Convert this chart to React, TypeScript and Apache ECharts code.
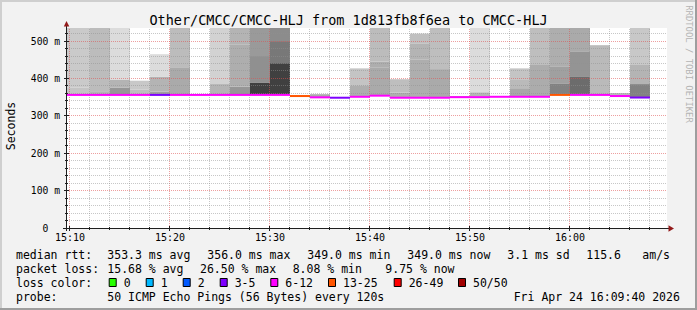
import React, { useEffect, useRef } from 'react';
import * as echarts from 'echarts';

const TITLE = 'Other/CMCC/CMCC-HLJ from 1d813fb8f6ea to CMCC-HLJ';
const Y_AXIS_NAME = 'Seconds';
const WATERMARK = 'RRDTOOL / TOBI OETIKER';

// x values are minutes after 15:00
const X_START = 9.7; // 15:09:42
const X_END = 69.7; // 16:09:42
const xMajorMinutes = [10, 20, 30, 40, 50, 60];
const xMajorLabels = ['15:10', '15:20', '15:30', '15:40', '15:50', '16:00'];
const xMinorMinutes = [12, 14, 16, 18, 22, 24, 26, 28, 32, 34, 36, 38, 42, 44, 46, 48, 52, 54, 56, 58, 62, 64, 66, 68];

// y values are milliseconds
const Y_MAX = 535;
const yMajorValues = [100, 200, 300, 400, 500];
const yMinorValues = [20, 40, 60, 80, 120, 140, 160, 180, 220, 240, 260, 280, 320, 340, 360, 380, 420, 440, 460, 480, 520];

// one entry per 120 s step (end minute of each step)
const slotEnd = [12, 14, 16, 18, 20, 22, 24, 26, 28, 30, 32, 34, 36, 38, 40, 42, 44, 46, 48, 50, 52, 54, 56, 58, 60, 62, 64, 66, 68];
const medianMs = [356, 356, 356, 356, 356, 356, 356, 356, 356, 356, 356, 353, 349.5, 348.5, 351, 354, 348.5, 348.5, 348.5, 350, 350, 351, 351, 351, 356, 356, 356, 353, 349];
const lossPct = [18, 16, 14, 20, 8.5, 14, 16, 14, 18, 20, 14, 26.5, 12.5, 8.08, 16, 14, 18, 14, 16, 12.5, 14, 16, 18, 14, 26, 16, 14, 16, 9.75];
// smoke: ping spread, split in three bands (median..b1, b1..b2, b2..top)
const smokeB1 = [375, 366, 375, 370, 365, 430, 356, 385, 378, 388, 441, 353, 358, 348.5, 382, 430, 362, 450, 425, 353, 363, 351, 374, 436, 387, 404, 489, 361, 385];
const smokeB2 = [375, 366, 396, 370, 405, 430, 356, 385, 490, 460, 500, 353, 358, 348.5, 382, 445, 362, 494, 425, 353, 363, 351, 396, 436, 431, 471, 489, 361, 436];
const smokeTop = [560, 560, 560, 394, 465, 560, 356, 560, 560, 560, 560, 353, 358, 348.5, 427, 560, 398, 520, 560, 353, 560, 351, 427, 560, 560, 560, 489, 361, 560];
const densLow = [0.22, 0.3, 0.45, 0.25, 0.4, 0.35, 0, 0.3, 0.45, 0.88, 0.88, 0, 0.35, 0, 0.33, 0.35, 0.33, 0.33, 0.35, 0.3, 0.3, 0, 0.36, 0.34, 0.55, 0.66, 0.27, 0.27, 0.55];
const densMid = [0.19, 0.26, 0.3, 0.2, 0.3, 0.26, 0, 0.15, 0.33, 0.48, 0.6, 0, 0, 0, 0.22, 0.33, 0.25, 0.3, 0.33, 0, 0.1, 0, 0.27, 0.3, 0.4, 0.46, 0.27, 0.27, 0.3];
const densHigh = [0.19, 0.26, 0.1, 0.2, 0.1, 0.26, 0, 0.15, 0.3, 0.43, 0.5, 0, 0, 0, 0.22, 0.26, 0.25, 0.24, 0.25, 0, 0.1, 0, 0.22, 0.25, 0.33, 0.35, 0.27, 0.27, 0.2];

const PINGS = 50;
const lossLabels = ['0', '1', '2', '3-5', '6-12', '13-25', '26-49', '50/50'];
const lossMaxPings = [0, 1, 2, 5, 12, 25, 49, 50];
const lossColors = ['#26ff00', '#00b8ff', '#0059ff', '#7e00ff', '#ff00ff', '#ff5500', '#ff0000', '#a10000'];

const rttTexts = ['median rtt:', '353.3 ms avg', '356.0 ms max', '349.0 ms min', '349.0 ms now', '3.1 ms sd', '115.6', 'am/s'];
const lossTexts = ['packet loss:', '15.68 % avg', '26.50 % max', '8.08 % min', '9.75 % now'];
const LOSS_COLOR_TITLE = 'loss color:';
const probeTexts = ['probe:', '50 ICMP Echo Pings (56 Bytes) every 120s', 'Fri Apr 24 16:09:40 2026'];

// layout (pixels)
const rttX = [16, 107.3, 207.3, 307.3, 407.3, 507.3, 586.3, 642.3];
const lossX = [16, 107.3, 200, 292.7, 385.3];
const probeX = [16, 107.3, 513.7];
const legendBoxX = [108.7, 145.7, 182.7, 219.7, 270.3, 328, 393.7, 458];
const ROW_Y = [254.5, 268.5, 282.5, 296.5];

const MONO = '"DejaVu Sans Mono", monospace';

function lossColor(pct: number): string {
  const lost = Math.round((pct / 100) * PINGS);
  for (let i = 0; i < lossMaxPings.length; i++) {
    if (lost <= lossMaxPings[i]) return lossColors[i];
  }
  return lossColors[lossColors.length - 1];
}

function smokeGray(d: number): string {
  const g = Math.max(0, Math.min(255, Math.round(240 - 200 * d)));
  const h = g.toString(16).padStart(2, '0');
  return '#' + h + h + h;
}

export default function App() {
  const ref = useRef<HTMLDivElement>(null);

  useEffect(() => {
    if (!ref.current) return;
    const chart = echarts.init(ref.current, undefined, { renderer: 'svg' });

    const slotStart = slotEnd.map((_, i) => (i === 0 ? X_START : slotEnd[i - 1]));
    const smokeData = slotEnd.map((e, i) => [
      slotStart[i], e, medianMs[i], smokeB1[i], smokeB2[i], smokeTop[i], densLow[i], densMid[i], densHigh[i],
    ]);
    const medianData = slotEnd.map((e, i) => [slotStart[i], e, medianMs[i], lossPct[i]]);
    const gridData: number[][] = [];
    xMinorMinutes.forEach((m) => gridData.push([m, 0, 0]));
    xMajorMinutes.forEach((m) => gridData.push([m, 0, 1]));
    yMinorValues.forEach((v) => gridData.push([X_START, v, 2]));
    yMajorValues.forEach((v) => gridData.push([X_START, v, 3]));
    gridData.push([X_START, 0, 4]);

    const text = (t: string, x: number, y: number, extra: any = {}) => ({
      type: 'text',
      x,
      y,
      silent: true,
      ...extra,
      style: {
        text: t,
        font: extra.font || `11.5px ${MONO}`,
        fill: extra.fill || '#000',
        align: extra.align || 'left',
        textAlign: extra.align || 'left',
        verticalAlign: 'middle',
        textVerticalAlign: 'middle',
      },
    });

    const graphics: any[] = [
      { type: 'rect', shape: { x: 0, y: 0, width: 697, height: 2 }, style: { fill: '#cfcfcf' }, silent: true },
      { type: 'rect', shape: { x: 0, y: 0, width: 2, height: 310 }, style: { fill: '#cfcfcf' }, silent: true },
      { type: 'rect', shape: { x: 0, y: 308, width: 697, height: 2 }, style: { fill: '#9e9e9e' }, silent: true },
      { type: 'rect', shape: { x: 695, y: 0, width: 2, height: 310 }, style: { fill: '#9e9e9e' }, silent: true },
      text(TITLE, 348.5, 19.5, { font: `13.5px ${MONO}`, align: 'center' }),
      text(Y_AXIS_NAME, 11, 126, { font: `11.5px ${MONO}`, align: 'center', rotation: Math.PI / 2 }),
      text(WATERMARK, 688.5, 64, { font: `8.9px ${MONO}`, align: 'center', rotation: -Math.PI / 2, fill: '#b4b4b4' }),
      // axis lines and arrows
      { type: 'line', shape: { x1: 66.5, y1: 231, x2: 66.5, y2: 25 }, style: { stroke: '#1f1f1f', lineWidth: 1 }, silent: true, z: 100 },
      { type: 'line', shape: { x1: 63, y1: 228.5, x2: 669, y2: 228.5 }, style: { stroke: '#1f1f1f', lineWidth: 1 }, silent: true, z: 100 },
      { type: 'polygon', shape: { points: [[63.8, 26.5], [69.3, 26.5], [66.5, 21]] }, style: { fill: '#931a1a' }, silent: true, z: 100 },
      { type: 'polygon', shape: { points: [[668.5, 225.3], [668.5, 231.7], [674, 228.5]] }, style: { fill: '#931a1a' }, silent: true, z: 100 },
    ];
    rttTexts.forEach((t, i) => graphics.push(text(t, rttX[i], ROW_Y[0])));
    lossTexts.forEach((t, i) => graphics.push(text(t, lossX[i], ROW_Y[1])));
    graphics.push(text(LOSS_COLOR_TITLE, 16, ROW_Y[2]));
    lossLabels.forEach((t, i) => {
      graphics.push({
        type: 'rect',
        shape: { x: legendBoxX[i] + 0.5, y: ROW_Y[2] - 4, width: 7, height: 8 },
        style: { fill: lossColors[i], stroke: '#000', lineWidth: 1 },
        silent: true,
      });
      graphics.push(text(t, legendBoxX[i] + 15, ROW_Y[2]));
    });
    probeTexts.forEach((t, i) => graphics.push(text(t, probeX[i], ROW_Y[3])));

    const option: any = {
      animation: false,
      backgroundColor: '#f2f2f2',
      grid: { left: 67, top: 28, width: 600, height: 200, show: true, backgroundColor: '#ffffff', borderWidth: 0 },
      xAxis: {
        type: 'value',
        min: X_START,
        max: X_END,
        axisLine: { show: false },
        axisTick: { show: false },
        splitLine: { show: false },
        axisLabel: {
          margin: 4,
          color: '#000',
          fontFamily: MONO,
          fontSize: 10,
          showMinLabel: true,
          showMaxLabel: true,
          formatter: (v: number) => {
            const i = xMajorMinutes.findIndex((m) => Math.abs(m - v) < 1e-6);
            return i >= 0 ? xMajorLabels[i] : '';
          },
        },
      },
      yAxis: {
        type: 'value',
        min: 0,
        max: Y_MAX,
        interval: 100,
        axisLine: { show: false },
        axisTick: { show: false },
        splitLine: { show: false },
        axisLabel: {
          margin: 7,
          color: '#000',
          fontFamily: MONO,
          fontSize: 9.7,
          formatter: (v: number) => {
            if (v === 0) return '{z|0}';
            return v % 100 === 0 ? `${v} m` : '';
          },
          rich: { z: { padding: [0, 11.7, 0, 0], fontFamily: MONO, fontSize: 9.7, color: '#000' } },
        },
      },
      graphic: graphics,
      series: [
        {
          type: 'custom',
          name: 'smoke',
          silent: true,
          z: 2,
          data: smokeData,
          encode: { x: [0, 1], y: [2, 5] },
          renderItem: (params: any, api: any) => {
            const cs = params.coordSys;
            const x0 = api.coord([api.value(0), api.value(2)])[0];
            const x1 = api.coord([api.value(1), api.value(2)])[0];
            const bands = [
              [api.value(2), api.value(3), api.value(6)],
              [api.value(3), api.value(4), api.value(7)],
              [api.value(4), api.value(5), api.value(8)],
            ];
            const children: any[] = [];
            bands.forEach(([lo, hi, d]) => {
              if (hi <= lo) return;
              const yBot = api.coord([api.value(0), lo])[1];
              const yTop = Math.max(api.coord([api.value(0), hi])[1], cs.y);
              children.push({
                type: 'rect',
                shape: { x: x0, y: yTop, width: x1 - x0, height: yBot - yTop },
                style: { fill: smokeGray(d) },
              });
            });
            return { type: 'group', children };
          },
        },
        {
          type: 'custom',
          name: 'grid',
          silent: true,
          z: 3,
          data: gridData,
          encode: { x: 0, y: 1 },
          renderItem: (params: any, api: any) => {
            const cs = params.coordSys;
            const kind = api.value(2);
            const minorStroke = 'rgba(143,143,143,0.5)';
            const majorStroke = 'rgba(222,80,80,0.55)';
            const tick = '#1f1f1f';
            const children: any[] = [];
            if (kind === 0 || kind === 1) {
              const x = Math.round(api.coord([api.value(0), 0])[0]) - 0.5;
              children.push({
                type: 'line',
                shape: { x1: x, y1: cs.y + cs.height, x2: x, y2: cs.y },
                style: { stroke: kind === 1 ? majorStroke : minorStroke, lineWidth: 1, lineDash: [1, 1] },
              });
              const len = kind === 1 ? 2.5 : 1.5;
              children.push({
                type: 'line',
                shape: { x1: x, y1: cs.y + cs.height - len + 0.5, x2: x, y2: cs.y + cs.height + len + 0.5 },
                style: { stroke: tick, lineWidth: 1 },
              });
            } else {
              const y = Math.floor(api.coord([X_START, api.value(1)])[1]) + 0.5;
              if (kind !== 4) {
                children.push({
                  type: 'line',
                  shape: { x1: cs.x, y1: y, x2: cs.x + cs.width, y2: y },
                  style: { stroke: kind === 3 ? majorStroke : minorStroke, lineWidth: 1, lineDash: [1, 1] },
                });
              }
              const len = kind === 2 ? 1.5 : 2.5;
              children.push({
                type: 'line',
                shape: { x1: cs.x - 0.5 - len, y1: y, x2: cs.x - 0.5 + len, y2: y },
                style: { stroke: tick, lineWidth: 1 },
              });
            }
            return { type: 'group', children };
          },
        },
        {
          type: 'custom',
          name: 'median rtt',
          silent: true,
          z: 4,
          data: medianData,
          encode: { x: [0, 1], y: 2 },
          renderItem: (params: any, api: any) => {
            const p0 = api.coord([api.value(0), api.value(2)]);
            const p1 = api.coord([api.value(1), api.value(2)]);
            return {
              type: 'rect',
              shape: { x: p0[0], y: p0[1] - 1, width: p1[0] - p0[0], height: 2 },
              style: { fill: lossColor(api.value(3)) },
            };
          },
        },
      ],
    };

    chart.setOption(option);
    return () => chart.dispose();
  }, []);

  return (
    <div
      ref={ref}
      style={{ position: 'fixed', left: 0, top: 0, width: 697, height: 310 }}
    />
  );
}
